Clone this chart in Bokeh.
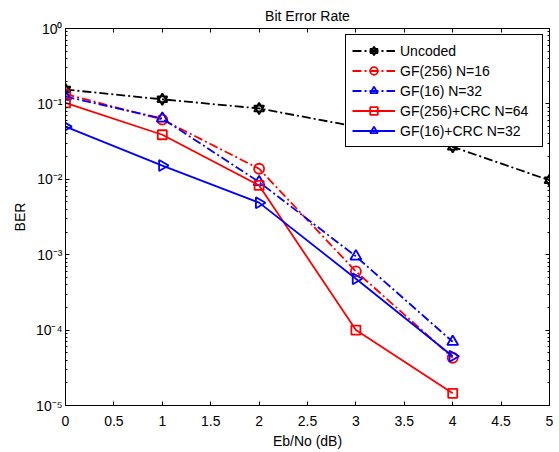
import numpy as np
from bokeh.plotting import figure
from bokeh.models import (Legend, LegendItem, FixedTicker, CustomJSTickFormatter,
                          LinearAxis, LogAxis, Range1d, ColumnDataSource)
from bokeh.embed import file_html
from bokeh.resources import INLINE

# ---- data ----
ebno_uncoded = [0, 1, 2, 3, 4, 5]
ber_uncoded = [0.155, 0.115, 0.087, 0.05, 0.027, 0.0097]

ebno_coded = [0, 1, 2, 3, 4]
ber_gf256_n16 = [0.135, 0.062, 0.0138, 6.0e-4, 4.3e-5]
ber_gf16_n32 = [0.125, 0.064, 0.0092, 9.5e-4, 7.0e-5]
ber_gf256_crc_n64 = [0.103, 0.039, 0.0083, 1.0e-4, 1.45e-5]
ber_gf16_crc_n32 = [0.05, 0.0152, 0.0049, 4.8e-4, 4.5e-5]

labels = ["Uncoded", "GF(256) N=16", "GF(16) N=32", "GF(256)+CRC N=64", "GF(16)+CRC N=32"]
x_ticks = [0, 0.5, 1, 1.5, 2, 2.5, 3, 3.5, 4, 4.5, 5]
y_decades = [-5, -4, -3, -2, -1, 0]

FONT = "Liberation Sans"
FS = "14px"

p = figure(width=553, height=451, x_range=Range1d(0, 5), y_range=Range1d(1e-5, 1),
           y_axis_type="log", output_backend="svg", toolbar_location=None,
           title="Bit Error Rate", min_border_left=65, min_border_right=4,
           min_border_top=28, min_border_bottom=43, background_fill_color="white",
           border_fill_color="white")
p.title.align = "center"
p.title.text_font = FONT
p.title.text_font_size = FS
p.title.text_font_style = "normal"
p.title.text_color = "black"
p.title.standoff = 9

p.xgrid.visible = False
p.ygrid.visible = False
p.outline_line_color = "black"
p.outline_line_alpha = 1.0
p.outline_line_width = 1

y_major = [10.0 ** k for k in y_decades]
y_minor = [m * 10.0 ** k for k in y_decades[:-1] for m in range(2, 10)]
xticker = FixedTicker(ticks=x_ticks, minor_ticks=[])
yticker = FixedTicker(ticks=y_major, minor_ticks=y_minor)

sup_code = """
const e = Math.round(Math.log10(tick));
const sup = {"-":"\u207b","0":"\u2070","1":"\u00b9","2":"\u00b2","3":"\u00b3","4":"\u2074","5":"\u2075","6":"\u2076","7":"\u2077","8":"\u2078","9":"\u2079"};
return "10" + String(e).split("").map(c => sup[c]).join("");
"""


def style_axis(ax):
    ax.axis_line_color = "black"
    ax.major_tick_line_color = "black"
    ax.minor_tick_line_color = "black"
    ax.major_tick_in = 4
    ax.major_tick_out = 0
    ax.minor_tick_in = 2
    ax.minor_tick_out = 0
    ax.major_label_text_font = FONT
    ax.major_label_text_font_size = FS
    ax.major_label_text_color = "black"
    ax.axis_label_text_font = FONT
    ax.axis_label_text_font_size = FS
    ax.axis_label_text_font_style = "normal"
    ax.axis_label_text_color = "black"


xa = p.xaxis[0]
xa.ticker = xticker
xa.axis_label = "Eb/No (dB)"
style_axis(xa)
xa.major_label_standoff = 10
xa.axis_label_standoff = 4

ya = p.yaxis[0]
ya.ticker = yticker
ya.formatter = CustomJSTickFormatter(code=sup_code)
ya.axis_label = "BER"
style_axis(ya)
ya.major_label_standoff = 3
ya.axis_label_standoff = 5

top_ax = LinearAxis(ticker=xticker, formatter=CustomJSTickFormatter(code="return ''"))
style_axis(top_ax)
top_ax.major_label_standoff = 0
p.add_layout(top_ax, "above")

right_ax = LogAxis(ticker=yticker, formatter=CustomJSTickFormatter(code="return ''"))
style_axis(right_ax)
right_ax.major_label_standoff = 0
p.add_layout(right_ax, "right")

DASHDOT = "9 3 2 3"
LW = 1.8

# Uncoded: black dash-dot, hexagram marker (two triangles)
l0 = p.line(ebno_uncoded, ber_uncoded, line_color="black", line_width=LW, line_dash=DASHDOT)
m0a = p.scatter(ebno_uncoded, ber_uncoded, marker="triangle", size=10, line_color="black",
                fill_color=None, line_width=1.8)
m0b = p.scatter(ebno_uncoded, ber_uncoded, marker="inverted_triangle", size=10, line_color="black",
                fill_color=None, line_width=1.8)

l1 = p.line(ebno_coded, ber_gf256_n16, line_color="red", line_width=LW, line_dash=DASHDOT)
m1 = p.scatter(ebno_coded, ber_gf256_n16, marker="circle", size=10, line_color="red",
               fill_color=None, line_width=LW)

l2 = p.line(ebno_coded, ber_gf16_n32, line_color="blue", line_width=LW, line_dash=DASHDOT)
m2 = p.scatter(ebno_coded, ber_gf16_n32, marker="triangle", size=11, line_color="blue",
               fill_color=None, line_width=LW)

l3 = p.line(ebno_coded, ber_gf256_crc_n64, line_color="red", line_width=LW)
m3 = p.scatter(ebno_coded, ber_gf256_crc_n64, marker="square", size=9, line_color="red",
               fill_color=None, line_width=LW)

src4 = ColumnDataSource(data=dict(x=ebno_coded, y=ber_gf16_crc_n32,
                                  ang=[-np.pi / 2] * len(ebno_coded)))
l4 = p.line("x", "y", source=src4, line_color="blue", line_width=LW)
m4 = p.scatter("x", "y", source=src4, marker="triangle", size=11, angle="ang",
               line_color="blue", fill_color=None, line_width=LW)

legend = Legend(items=[
    LegendItem(label=labels[0], renderers=[l0, m0a, m0b]),
    LegendItem(label=labels[1], renderers=[l1, m1]),
    LegendItem(label=labels[2], renderers=[l2, m2]),
    LegendItem(label=labels[3], renderers=[l3, m3]),
    LegendItem(label=labels[4], renderers=[l4, m4]),
], location="top_right")
legend.margin = 6
legend.padding = 6
legend.spacing = 1
legend.glyph_width = 43
legend.glyph_height = 19
legend.label_height = 19
legend.label_width = 136
legend.label_standoff = 5
legend.label_text_font = FONT
legend.label_text_font_size = FS
legend.label_text_color = "black"
legend.border_line_color = "black"
legend.border_line_width = 1
legend.border_line_alpha = 1.0
legend.background_fill_color = "white"
legend.background_fill_alpha = 1.0
p.add_layout(legend)

open("out.html", "w").write(file_html(p, INLINE))
